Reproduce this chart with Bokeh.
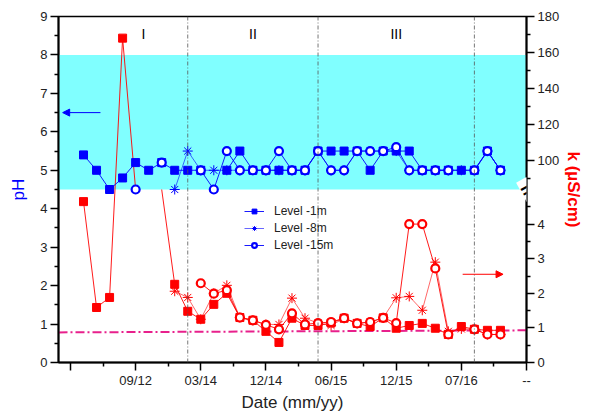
import numpy as np
from bokeh.plotting import figure
from bokeh.models import (ColumnDataSource, CustomJSTransform, LinearAxis, FixedTicker,
                          CustomJSTickFormatter, BoxAnnotation, Span, Arrow, NormalHead,
                          Label, Legend, LegendItem, CDSView, BooleanFilter, Range1d)
from bokeh.transform import transform
from bokeh.embed import file_html
from bokeh.resources import INLINE
from bokeh.core.properties import value

nan = np.nan

# ---------------- data ----------------
sample = list(range(1, 34))
x_tick_pos = [0, 5, 10, 15, 20, 25, 30, 35]
x_tick_labels = ["", "09/12", "03/14", "12/14", "06/15", "12/15", "07/16", "--"]
period_x = [9, 19, 31]
period_label_x = [5.6, 14, 25]
period_labels = ["I", "II", "III"]

ph_1m = [5.4, 5.0, 4.5, 4.8, 5.2, 5.0, 5.2, 5.0, 5.0, 5.0, nan, 5.0, 5.5, 5.0, 5.0, 5.0, 5.0,
         5.0, 5.5, 5.5, 5.5, 5.5, 5.0, 5.5, 5.5, 5.5, 5.0, 5.0, 5.0, 5.0, 5.0, 5.5, 5.0]
ph_8m = [nan] * 7 + [4.5, 5.5, 5.0, 5.0, 5.0, 5.0, 5.0, 5.0, 5.0, 5.0, 5.0, 5.5, 5.0, 5.0, 5.5,
                     5.5, 5.5, 5.5, 5.0, 5.0, 5.0, 5.0, 5.0, 5.0, 5.5, 5.0]
ph_15m = [nan, nan, nan, nan, 4.5, nan, 5.2, nan, nan, 5.0, 4.5, 5.5, 5.0, 5.0, 5.0, 5.5, 5.0,
          5.0, 5.5, 5.0, 5.0, 5.5, 5.5, 5.5, 5.6, 5.0, 5.0, 5.0, 5.0, nan, 5.0, 5.5, 5.0]

# conductivity (uS/cm); values between 5 and 84 fall inside the axis break
k_1m = [4.65, 1.59, 1.88, 168, 50, nan, 50, 2.26, 1.48, 1.25, 1.68, 2.0, 1.30, 1.22, 0.90, 0.58,
        1.28, 1.07, 1.07, 1.14, 1.28, 1.13, 1.04, 1.29, 0.99, 1.07, 1.13, 0.99, 0.81, 1.04, 0.96,
        0.93, 0.93]
k_8m = [nan] * 7 + [2.06, 1.88, 1.25, 2.0, 2.23, 1.30, 1.22, 1.10, 1.10, 1.86, 1.28, 1.14, 1.07,
                    1.28, 1.13, 1.17, 1.29, 1.87, 1.91, 1.51, 2.90, 0.90, 0.97, 0.96, 0.81, 0.81]
k_15m = [nan] * 9 + [2.29, 1.99, 2.09, 1.30, 1.22, 1.09, 0.96, 1.42, 1.10, 1.14, 1.17, 1.28, 1.13,
                     1.17, 1.29, 1.14, 4.0, 4.0, 2.72, 0.81, nan, 0.96, 0.81, 0.81]

ref_x = [-0.92, 35]
ref_k = [0.87, 0.93]

ph_band = (4.5, 8.0)
ph_arrow = 6.5
k_arrow = 2.55

# broken right axis: k 0..5 -> pH 0..4.5 ; k 84..180 -> pH 4.5..9
LOW_TOP, HIGH_BOT, HIGH_TOP, BRK, TOP = 5.0, 84.0, 180.0, 4.5, 9.0


def k_to_plot(k):
    if k <= LOW_TOP:
        return k * BRK / LOW_TOP
    if k < HIGH_BOT:
        return BRK
    return BRK + (k - HIGH_BOT) * (TOP - BRK) / (HIGH_TOP - HIGH_BOT)


args = dict(lt=LOW_TOP, hb=HIGH_BOT, ht=HIGH_TOP, brk=BRK, top=TOP)
kt = CustomJSTransform(args=args, v_func="""
const out = new Float64Array(xs.length);
for (let i = 0; i < xs.length; i++) {
  const k = xs[i];
  if (k <= lt) out[i] = k * brk / lt;
  else if (k < hb) out[i] = brk;
  else out[i] = brk + (k - hb) * (top - brk) / (ht - hb);
}
return out;
""", func="""
if (x <= lt) return x * brk / lt;
if (x < hb) return brk;
return brk + (x - hb) * (top - brk) / (ht - hb);
""")

BLUE = "#0000FF"
RED = "#FF0000"
FONT = "Liberation Sans"

p = figure(frame_width=468, frame_height=346, output_backend="svg", toolbar_location=None,
           x_range=Range1d(-0.92, 35), y_range=Range1d(0, 9),
           min_border_left=58, min_border_right=57, min_border_top=16, min_border_bottom=48)
p.xgrid.visible = False
p.ygrid.visible = False
p.outline_line_color = "black"
p.outline_line_width = 1.5
p.background_fill_color = "white"

p.add_layout(BoxAnnotation(bottom=ph_band[0], top=ph_band[1], fill_color="#80FFFF",
                           fill_alpha=1.0, line_alpha=0, level="underlay"))
for xs in period_x:
    p.add_layout(Span(location=xs, dimension="height", line_color="#555555",
                      line_width=0.8, line_dash="4 2 1 2"))

p.text(x=period_label_x, y=[8.55] * 3, text=period_labels, text_font=value(FONT),
       text_font_size="14px", text_align="center", text_baseline="middle", text_color="black")

# reference dash-dot line
ref_src = ColumnDataSource(dict(x=ref_x, k=ref_k))
p.line(x="x", y=transform("k", kt), source=ref_src, line_color="#E8208C", line_width=2,
       line_dash="9 3 2 3")

# ---- conductivity (red) ----
ksrc = ColumnDataSource(dict(x=sample, k1=np.array(k_1m, float), k8=np.array(k_8m, float),
                             k15=np.array(k_15m, float)))


def visible(vals):
    return [not (np.isnan(v) or (LOW_TOP < v < HIGH_BOT)) for v in vals]


p.line(x="x", y=transform("k1", kt), source=ksrc, line_color=RED, line_width=0.9)
p.scatter(x="x", y=transform("k1", kt), source=ksrc, marker="square", size=8,
          fill_color=RED, line_color=RED, view=CDSView(filter=BooleanFilter(booleans=visible(k_1m))))
p.line(x="x", y=transform("k8", kt), source=ksrc, line_color=RED, line_width=0.6)
p.scatter(x="x", y=transform("k8", kt), source=ksrc, marker="asterisk", size=10,
          line_color=RED, line_width=1)
p.line(x="x", y=transform("k15", kt), source=ksrc, line_color=RED, line_width=0.9)
p.scatter(x="x", y=transform("k15", kt), source=ksrc, marker="circle", size=8,
          fill_color="white", line_color=RED, line_width=2.2)

# ---- pH (blue) ----
psrc = ColumnDataSource(dict(x=sample, p1=np.array(ph_1m, float), p8=np.array(ph_8m, float),
                             p15=np.array(ph_15m, float)))
l1 = p.line(x="x", y="p1", source=psrc, line_color=BLUE, line_width=0.9)
s1 = p.scatter(x="x", y="p1", source=psrc, marker="square", size=8, fill_color=BLUE, line_color=BLUE)
l8 = p.line(x="x", y="p8", source=psrc, line_color=BLUE, line_width=0.6)
s8 = p.scatter(x="x", y="p8", source=psrc, marker="asterisk", size=10, line_color=BLUE, line_width=1)
l15 = p.line(x="x", y="p15", source=psrc, line_color=BLUE, line_width=0.9)
s15 = p.scatter(x="x", y="p15", source=psrc, marker="circle", size=8, fill_color="white",
                line_color=BLUE, line_width=2.2)

# arrows
p.add_layout(Arrow(end=NormalHead(size=7, fill_color=BLUE, line_color=BLUE),
                   x_start=2.3, y_start=ph_arrow, x_end=-0.6, y_end=ph_arrow,
                   line_color=BLUE, line_width=1))
p.add_layout(Arrow(end=NormalHead(size=7, fill_color=RED, line_color=RED),
                   x_start=30.1, y_start=k_to_plot(k_arrow), x_end=33.2, y_end=k_to_plot(k_arrow),
                   line_color=RED, line_width=1))

legend = Legend(items=[LegendItem(label="Level -1m", renderers=[l1, s1]),
                       LegendItem(label="Level -8m", renderers=[l8, s8]),
                       LegendItem(label="Level -15m", renderers=[l15, s15])],
                location=(186, 110), border_line_alpha=0, background_fill_alpha=0,
                padding=0, margin=0, spacing=3, glyph_width=20, glyph_height=12,
                label_height=12, label_standoff=10, label_text_font=FONT,
                label_text_font_size="12px", label_text_color="#222222")
p.add_layout(legend)


# ---- axes ----
def style_axis(ax):
    ax.axis_line_width = 2
    ax.axis_line_color = "black"
    ax.major_tick_line_width = 1.5
    ax.minor_tick_line_width = 1.5
    ax.major_tick_in = 0
    ax.major_tick_out = 8
    ax.minor_tick_in = 0
    ax.minor_tick_out = 4
    ax.major_label_text_font = FONT
    ax.major_label_text_font_size = "13px"
    ax.major_label_text_color = "#222222"
    ax.axis_label_text_font = FONT
    ax.axis_label_text_font_size = "17px"
    ax.axis_label_text_font_style = "normal"


xa = p.xaxis[0]
style_axis(xa)
xa.ticker = FixedTicker(ticks=x_tick_pos, minor_ticks=[t + 2.5 for t in x_tick_pos[:-1]])
xa.major_label_overrides = {t: l for t, l in zip(x_tick_pos, x_tick_labels)}
xa.axis_label = "Date (mm/yy)"
xa.axis_label_text_color = "#222222"
xa.major_label_standoff = 2
xa.axis_label_standoff = 2

ya = p.yaxis[0]
style_axis(ya)
ya.ticker = FixedTicker(ticks=list(range(0, 10)), minor_ticks=[i + 0.5 for i in range(9)])
ya.axis_label = "pH"
ya.axis_label_text_color = BLUE
ya.major_label_standoff = 3
ya.axis_label_standoff = 9

k_major = [0, 1, 2, 3, 4, 100, 120, 140, 160, 180]
k_minor = [0.5, 1.5, 2.5, 3.5, 4.5, 90, 110, 130, 150, 170]
ra = LinearAxis(ticker=FixedTicker(ticks=[k_to_plot(k) for k in k_major],
                                   minor_ticks=[k_to_plot(k) for k in k_minor]),
                formatter=CustomJSTickFormatter(args=args, code="""
let k;
if (tick <= brk + 1e-9) k = tick * lt / brk;
else k = hb + (tick - brk) * (ht - hb) / (top - brk);
return String(Math.round(k));
"""))
style_axis(ra)
ra.axis_label = "k (\u00b5S/cm)"
ra.axis_label_text_color = RED
ra.axis_label_text_font_style = "bold"
ra.major_label_standoff = 3
ra.axis_label_standoff = 2
p.add_layout(ra, "right")

# axis break mark
p.add_layout(Label(x=35, y=BRK, text="=", text_font=FONT, text_font_size="20px",
                   text_font_style="bold", text_align="center", text_baseline="middle",
                   angle=0.5, text_color="black", background_fill_color="white",
                   background_fill_alpha=1.0))

open("out.html", "w").write(file_html(p, INLINE))
